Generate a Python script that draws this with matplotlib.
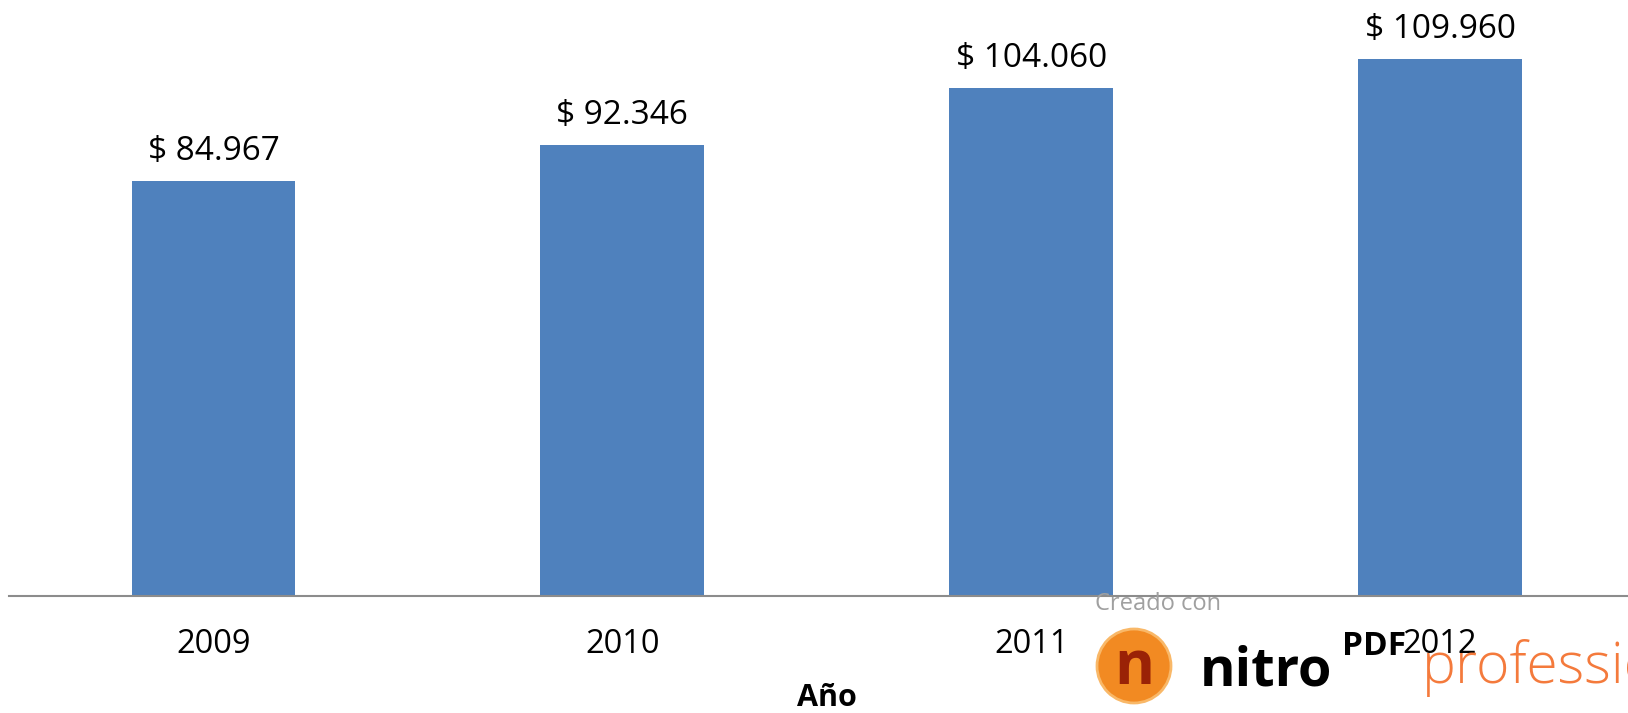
import matplotlib.pyplot as plt
from matplotlib.patches import Ellipse

# Chart data
years = ['2009', '2010', '2011', '2012']
values = [84967, 92346, 104060, 109960]
value_labels = ['$ 84.967', '$ 92.346', '$ 104.060', '$ 109.960']

plt.rcParams['font.family'] = ['Open Sans', 'DejaVu Sans']

W, H = 1628, 713
fig = plt.figure(figsize=(W / 100, H / 100), dpi=100)
ax = fig.add_axes([0.0055, 0.164, 1.0046, 0.836])

x = range(len(years))
bars = ax.bar(x, values, width=0.4, color='#4F81BD', zorder=2)

for bar, lab in zip(bars, value_labels):
    ax.annotate(lab, (bar.get_x() + bar.get_width() / 2, bar.get_height()),
                xytext=(0, 9), textcoords='offset points',
                ha='center', va='bottom', fontsize=24, color='black')

ax.set_xlim(-0.5, 3.5)
ax.set_ylim(0, 122000)
ax.set_xticks(list(x))
ax.set_xticklabels(years, fontsize=23.5)
ax.tick_params(axis='x', length=0, pad=23)
ax.set_yticks([])
for side in ['top', 'right', 'left']:
    ax.spines[side].set_visible(False)
ax.spines['bottom'].set_color('#8C8C8C')
ax.spines['bottom'].set_linewidth(1.5)
ax.set_xlabel('Año', fontsize=22, fontweight='bold', labelpad=16)


def fx(px):
    return px / W


def fy(py):
    return 1 - py / H


# watermark from the PDF converter
fig.text(fx(1095), fy(604), 'Creado con', fontsize=17,
         color='#A0A0A0', va='center', ha='left')
logo = Ellipse((fx(1134), fy(666)), 74 / W, 74 / H, transform=fig.transFigure,
               facecolor='#F28A22', edgecolor='#F9B868', linewidth=2)
fig.add_artist(logo)
fig.text(fx(1134), fy(668), 'n', fontsize=44, fontweight='bold',
         color='#9A2206', ha='center', va='center')
fig.text(fx(1200), fy(685), 'nitro', fontsize=39, fontweight='bold',
         color='black', ha='left', va='baseline')
fig.text(fx(1342), fy(655), 'PDF', fontsize=24, fontweight='bold',
         color='black', ha='left', va='baseline')
fig.text(fx(1422), fy(683), 'professional', fontsize=41,
         fontweight='light', color='#F47A3C', ha='left', va='baseline')

fig.savefig('out.png', dpi=100, facecolor='white')
